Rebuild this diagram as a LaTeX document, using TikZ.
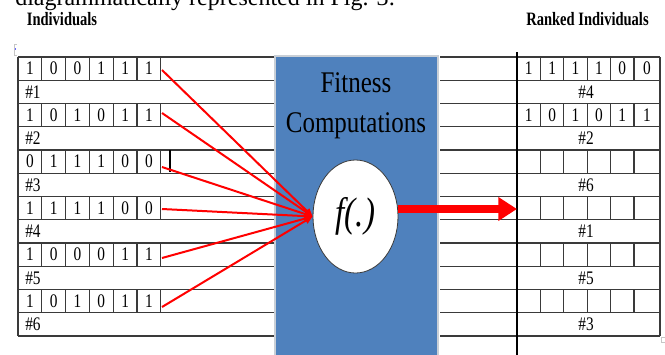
\documentclass[tikz,border=0pt]{standalone}
\usepackage{fontspec}
\setmainfont{Liberation Serif}
\usepackage{graphicx}
\usetikzlibrary{arrows.meta,shapes.geometric}
\definecolor{boxblue}{HTML}{4F81BD}
\definecolor{gridc}{HTML}{3A3A3A}
\definecolor{boxedge}{HTML}{C9CFD6}
\newcommand{\vstretch}[2]{\scalebox{1}[#1]{#2}}
\begin{document}
\begin{tikzpicture}[x=0.75pt,y=-0.75pt,
  gridline/.style={draw=gridc, line width=0.8pt},
  cell/.style={inner sep=0pt, font=\fontsize{11.5}{12}\selectfont},
  head/.style={inner sep=0pt, font=\fontsize{10.9}{12}\selectfont\bfseries},
  feed/.style={draw=red, line width=1.5pt, -{Triangle[length=6pt,width=5pt]}},
  bigarrow/.style={draw=red, line width=6pt, -{Triangle[length=14pt,width=17pt]}}]
\useasboundingbox (0,0) rectangle (665,354);
\clip (0,0) rectangle (665,354);
% cut-off text line at the top
\node[anchor=base west, inner sep=0pt, font=\fontsize{18}{18}\selectfont] (toptext) at (15,5) {diagrammatically represented in Fig. 3:};
% headings
\node[head] (hleft) at (62,19) {\vstretch{1.3}{Individuals}};
\node[head] (hright) at (587.5,19) {\vstretch{1.3}{Ranked Individuals}};
% left table
\foreach \k in {0,...,12}{
  \draw[gridline] (18,{57+23.25*\k}) -- (276,{57+23.25*\k});
}
\draw[gridline] (18,57) -- (18,336);
\foreach \k/\a/\b/\c/\d/\e/\f/\lab in {0/1/0/0/1/1/1/1, 2/1/0/1/0/1/1/2, 4/0/1/1/1/0/0/3, 6/1/1/1/1/0/0/4, 8/1/0/0/0/1/1/5, 10/1/0/1/0/1/1/6}{
  \pgfmathsetmacro\ya{57+23.25*\k}
  \pgfmathsetmacro\yb{57+23.25*(\k+1)}
  \pgfmathsetmacro\ym{57+23.25*(\k+0.5)}
  \pgfmathsetmacro\yl{57+23.25*(\k+1.5)}
  \foreach \i in {1,...,6} \draw[gridline] ({18+23.8*\i},\ya) -- ({18+23.8*\i},\yb);
  \node[cell] (L\k-1) at ({18+23.8*0.5},\ym) {\vstretch{1.25}{\a}};
  \node[cell] (L\k-2) at ({18+23.8*1.5},\ym) {\vstretch{1.25}{\b}};
  \node[cell] (L\k-3) at ({18+23.8*2.5},\ym) {\vstretch{1.25}{\c}};
  \node[cell] (L\k-4) at ({18+23.8*3.5},\ym) {\vstretch{1.25}{\d}};
  \node[cell] (L\k-5) at ({18+23.8*4.5},\ym) {\vstretch{1.25}{\e}};
  \node[cell] (L\k-6) at ({18+23.8*5.5},\ym) {\vstretch{1.25}{\f}};
  \node[cell, anchor=west] (L\k-h) at (25,\yl) {\vstretch{1.25}{\#\lab}};
}
% text cursor mark
\draw[line width=1.2pt, black] (170,150) -- (170,172);
% table move handle and resize mark
\draw[gray!45, line width=0.6pt] (17,44) -- (14,44) -- (14,55) -- (17,55);
\fill[blue!60] (14.5,48) rectangle (16,50);
\draw[gray!45, line width=0.6pt] (661,337) rectangle (665,342);
% right table
\foreach \k in {0,...,12}{
  \draw[gridline] (440,{57+23.25*\k}) -- (660,{57+23.25*\k});
}
\draw[gridline] (660,57) -- (660,336);
\foreach \k/\a/\b/\c/\d/\e/\f/\lab in {0/1/1/1/1/0/0/4, 2/1/0/1/0/1/1/2, 4/ / / / / / /6, 6/ / / / / / /1, 8/ / / / / / /5, 10/ / / / / / /3}{
  \pgfmathsetmacro\ya{57+23.25*\k}
  \pgfmathsetmacro\yb{57+23.25*(\k+1)}
  \pgfmathsetmacro\ym{57+23.25*(\k+0.5)}
  \pgfmathsetmacro\yl{57+23.25*(\k+1.5)}
  \foreach \i in {1,...,5} \draw[gridline] ({517+23.4*\i},\ya) -- ({517+23.4*\i},\yb);
  \node[cell] (R\k-1) at ({517+23.4*0.5},\ym) {\vstretch{1.25}{\a}};
  \node[cell] (R\k-2) at ({517+23.4*1.5},\ym) {\vstretch{1.25}{\b}};
  \node[cell] (R\k-3) at ({517+23.4*2.5},\ym) {\vstretch{1.25}{\c}};
  \node[cell] (R\k-4) at ({517+23.4*3.5},\ym) {\vstretch{1.25}{\d}};
  \node[cell] (R\k-5) at ({517+23.4*4.5},\ym) {\vstretch{1.25}{\e}};
  \node[cell] (R\k-6) at (647,\ym) {\vstretch{1.25}{\f}};
  \node[cell] (R\k-h) at (586,\yl) {\vstretch{1.25}{\#\lab}};
}
\draw[black, line width=2.2pt] (517,52) -- (517,360);
\coordinate (target) at (517,209);
% fitness box
\draw[fill=boxblue, draw=boxedge, line width=1.8pt] (275,56) rectangle (438,370);
\node[inner sep=0pt, font=\fontsize{18.75}{20}\selectfont] (t1) at (356,83) {\vstretch{1.2}{Fitness}};
\node[inner sep=0pt, font=\fontsize{18.75}{20}\selectfont] (t2) at (356,126) {\vstretch{1.2}{Computations}};
\node[ellipse, draw=gridc, line width=0.6pt, fill=white, minimum width=63.75pt, minimum height=84.75pt, inner sep=0pt, font=\fontsize{24.75}{26}\selectfont\itshape] (f) at (355.5,216.5) {\vstretch{1.25}{f(.)}};
% feed lines
\coordinate (s1) at (162,70);
\coordinate (s2) at (162,113);
\coordinate (s3) at (162,167);
\coordinate (s4) at (162,209);
\coordinate (s5) at (162,258);
\coordinate (s6) at (162,307);
\foreach \s in {s1,s2,s3,s4,s5,s6} \draw[feed] (\s) -- (f.west);
% output arrow
\draw[bigarrow] (f.east |- target) -- (target);
\end{tikzpicture}
\end{document}
